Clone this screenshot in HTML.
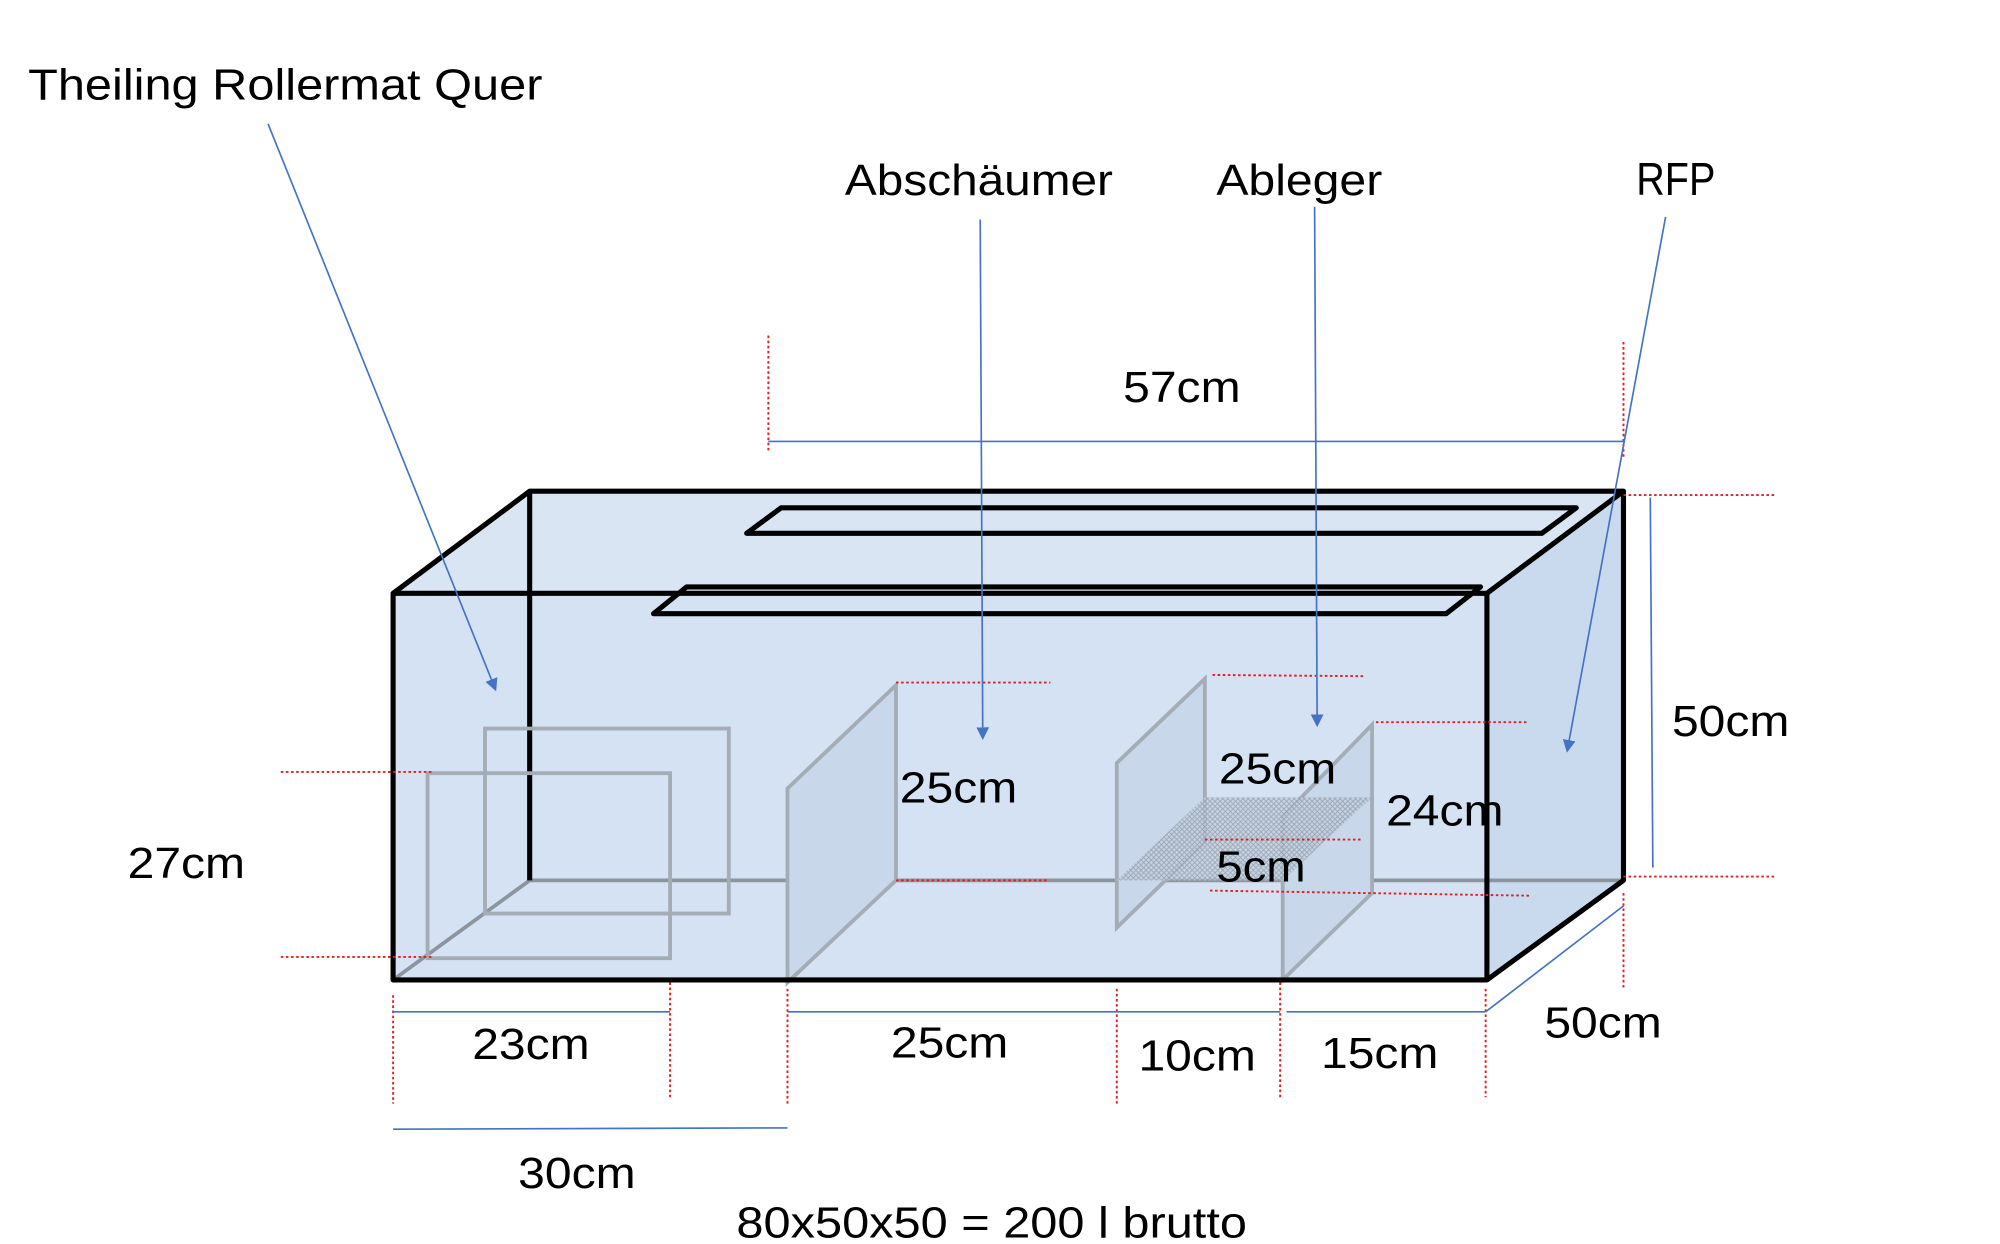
<!DOCTYPE html>
<html><head><meta charset="utf-8"><style>html,body{margin:0;padding:0;background:#fff}svg{display:block}</style></head>
<body>
<svg width="2000" height="1244" viewBox="0 0 1567 975" preserveAspectRatio="none" xmlns="http://www.w3.org/2000/svg">
<defs>
<pattern id="mesh" width="4" height="4" patternUnits="userSpaceOnUse"><rect width="4" height="4" fill="#c4cfdc"/><path d="M0 0L4 4M4 0L0 4" stroke="#8a96a6" stroke-width="0.6"/></pattern>
<marker id="ar" markerWidth="10" markerHeight="10" refX="8" refY="5" orient="auto" markerUnits="userSpaceOnUse"><path d="M0 0L10 5L0 10z" fill="#4472c4"/></marker>
</defs>
<polygon points="308,465 415,385 1272,385 1165,465" fill="#dae5f3"/>
<polygon points="1165,465 1272,385 1272,690 1165,768" fill="#c9daef"/>
<rect x="308" y="465" width="857" height="303" fill="#d5e2f3"/>
<g stroke="#8c949e" stroke-width="3" fill="none">
<line x1="415" y1="690" x2="1272" y2="690"/>
<line x1="308" y1="768" x2="415" y2="690"/>
</g>
<line x1="415" y1="385" x2="415" y2="690" stroke="#000" stroke-width="4"/>
<g stroke="#a4acb6" stroke-width="3" fill="none">
<rect x="380" y="571" width="191" height="145"/>
<rect x="335" y="606" width="190" height="145"/>
</g>
<g stroke="#a4acb6" stroke-width="3" fill="#c8d7ea">
<polygon points="617,618 702,537 702,690 617,770"/>
<polygon points="875,598 944,532 944,660 875,727"/>
<polygon points="1005,640 1075,568 1075,700 1005,768"/>
</g>
<polygon points="875,690 944,625 1075,625 1005,690" fill="url(#mesh)" opacity="0.8"/>
<g stroke="#000" stroke-width="4" fill="none" stroke-linejoin="round">
<rect x="308" y="465" width="857" height="303"/>
<polyline points="308,465 415,385 1272,385 1165,465"/>
<polyline points="1272,385 1272,690 1165,768"/>
<polygon points="585,418 612,398 1235,398 1208,418"/>
<polygon points="512,481 538,460 1160,460 1133,481"/>
</g>
<g stroke="#e02020" stroke-width="1.5" stroke-dasharray="2,2" fill="none">
<line x1="220" y1="605" x2="340" y2="605"/><line x1="220" y1="750" x2="340" y2="750"/>
<line x1="702" y1="535" x2="823" y2="535"/><line x1="702" y1="690" x2="820" y2="690"/>
<line x1="950" y1="529" x2="1070" y2="530"/><line x1="1078" y1="566" x2="1198" y2="566"/>
<line x1="944" y1="658" x2="1068" y2="658"/><line x1="948" y1="698" x2="1198" y2="702"/>
<line x1="1272" y1="388" x2="1390" y2="388"/><line x1="1272" y1="687" x2="1390" y2="687"/>
<line x1="602" y1="263" x2="602" y2="355"/><line x1="1272" y1="268" x2="1272" y2="360"/>
<line x1="308" y1="780" x2="308" y2="865"/><line x1="525" y1="770" x2="525" y2="862"/>
<line x1="617" y1="775" x2="617" y2="865"/><line x1="875" y1="775" x2="875" y2="865"/>
<line x1="1003" y1="770" x2="1003" y2="860"/><line x1="1164" y1="775" x2="1164" y2="860"/>
<line x1="1272" y1="700" x2="1272" y2="775"/>
</g>
<g stroke="#4472c4" stroke-width="1.3" fill="none">
<line x1="602" y1="346" x2="1272" y2="346"/><line x1="1293" y1="390" x2="1295" y2="680"/>
<line x1="308" y1="793" x2="525" y2="793"/><line x1="617" y1="793" x2="1003" y2="793"/>
<line x1="1008" y1="793" x2="1164" y2="793"/><line x1="1164" y1="793" x2="1272" y2="710"/>
<line x1="308" y1="885" x2="617" y2="884"/>
<line x1="210" y1="97" x2="388" y2="540" marker-end="url(#ar)"/>
<line x1="768" y1="172" x2="770" y2="578" marker-end="url(#ar)"/>
<line x1="1030" y1="162" x2="1032" y2="568" marker-end="url(#ar)"/>
<line x1="1305" y1="170" x2="1228" y2="588" marker-end="url(#ar)"/>
</g>
<g font-family="Liberation Sans, sans-serif" font-size="34" fill="#000">
<text x="22" y="78" textLength="403" lengthAdjust="spacingAndGlyphs">Theiling Rollermat Quer</text>
<text x="662" y="153" textLength="210" lengthAdjust="spacingAndGlyphs">Abschäumer</text>
<text x="953" y="153" textLength="130" lengthAdjust="spacingAndGlyphs">Ableger</text>
<text x="1282" y="153" textLength="62" lengthAdjust="spacingAndGlyphs" font-size="36">RFP</text>
<text x="880" y="315" textLength="92" lengthAdjust="spacingAndGlyphs">57cm</text>
<text x="1310" y="577" textLength="92" lengthAdjust="spacingAndGlyphs">50cm</text>
<text x="705" y="629" textLength="92" lengthAdjust="spacingAndGlyphs">25cm</text>
<text x="955" y="614" textLength="92" lengthAdjust="spacingAndGlyphs">25cm</text>
<text x="1086" y="647" textLength="92" lengthAdjust="spacingAndGlyphs">24cm</text>
<text x="953" y="691" textLength="70" lengthAdjust="spacingAndGlyphs">5cm</text>
<text x="100" y="688" textLength="92" lengthAdjust="spacingAndGlyphs">27cm</text>
<text x="370" y="830" textLength="92" lengthAdjust="spacingAndGlyphs">23cm</text>
<text x="698" y="829" textLength="92" lengthAdjust="spacingAndGlyphs">25cm</text>
<text x="892" y="839" textLength="92" lengthAdjust="spacingAndGlyphs">10cm</text>
<text x="1035" y="837" textLength="92" lengthAdjust="spacingAndGlyphs">15cm</text>
<text x="1210" y="813" textLength="92" lengthAdjust="spacingAndGlyphs">50cm</text>
<text x="406" y="931" textLength="92" lengthAdjust="spacingAndGlyphs">30cm</text>
<text x="577" y="970" textLength="400" lengthAdjust="spacingAndGlyphs">80x50x50 = 200 l brutto</text>
</g>
</svg>
</body></html>
